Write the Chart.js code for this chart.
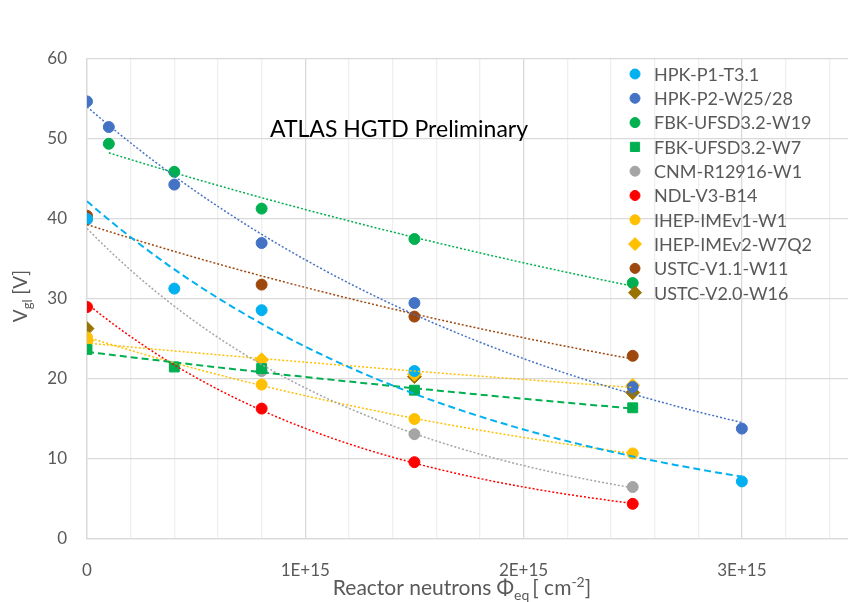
<!DOCTYPE html>
<html>
<head>
<meta charset="utf-8">
<script src="https://cdn.jsdelivr.net/npm/chart.js@4/dist/chart.umd.min.js"></script>
<style>
  html, body { margin: 0; padding: 0; background: #fff; overflow: hidden; }
  #wrap { width: 860px; height: 602px; position: relative; }
</style>
</head>
<body>
<div id="wrap"><canvas id="chart"></canvas></div>
<script>
// fluence values (x) and gate voltage (y) per sensor
const hpkP1X = [0, 4e14, 8e14, 1.5e15, 3e15]
const hpkP1Y = [40.0, 31.3, 28.6, 21.0, 7.2]
const hpkP2X = [0, 1e14, 4e14, 8e14, 1.5e15, 2.5e15, 3e15]
const hpkP2Y = [54.7, 51.5, 44.3, 37.0, 29.5, 19.0, 13.8]
const fbkW19X = [1e14, 4e14, 8e14, 1.5e15, 2.5e15]
const fbkW19Y = [49.4, 45.9, 41.3, 37.5, 32.0]
const fbkW7X = [0, 4e14, 8e14, 1.5e15, 2.5e15]
const fbkW7Y = [23.7, 21.5, 21.3, 18.6, 16.4]
const cnmX = [0, 8e14, 1.5e15, 2.5e15]
const cnmY = [39.9, 21.0, 13.1, 6.5]
const ndlX = [0, 8e14, 1.5e15, 2.5e15]
const ndlY = [29.0, 16.3, 9.6, 4.4]
const imev1X = [0, 8e14, 1.5e15, 2.5e15]
const imev1Y = [25.2, 19.3, 15.0, 10.7]
const imev2X = [0, 8e14, 1.5e15, 2.5e15]
const imev2Y = [24.8, 22.4, 20.6, 19.2]
const ustc11X = [0, 8e14, 1.5e15, 2.5e15]
const ustc11Y = [40.4, 31.8, 27.8, 22.9]
const ustc20X = [0, 1.5e15, 2.5e15]
const ustc20Y = [26.3, 20.3, 18.3]

const yTicks = [0, 10, 20, 30, 40, 50, 60]
// x gridlines every 2E+14, labelled every 1E+15
const xGrid = [0, 2e14, 4e14, 6e14, 8e14, 1e15, 1.2e15, 1.4e15, 1.6e15, 1.8e15, 2e15,
  2.2e15, 2.4e15, 2.6e15, 2.8e15, 3e15, 3.2e15, 3.4e15]
const xTickLabels = ['0', '1E+15', '2E+15', '3E+15']

// name, x, y, colour, marker, trendline dash (null = no trendline), trend width
const series = [
  ['HPK-P1-T3.1', hpkP1X, hpkP1Y, '#00B0F0', 'circle', [7, 4], 2],
  ['HPK-P2-W25/28', hpkP2X, hpkP2Y, '#4472C4', 'circle', [2, 2], 1.5],
  ['FBK-UFSD3.2-W19', fbkW19X, fbkW19Y, '#00B050', 'circle', [2, 2], 1.5],
  ['FBK-UFSD3.2-W7', fbkW7X, fbkW7Y, '#00B050', 'rect', [7, 4], 2],
  ['CNM-R12916-W1', cnmX, cnmY, '#A5A5A5', 'circle', [2, 2], 1.5],
  ['NDL-V3-B14', ndlX, ndlY, '#FF0000', 'circle', [2, 2], 1.5],
  ['IHEP-IMEv1-W1', imev1X, imev1Y, '#FFC000', 'circle', [2, 2], 1.5],
  ['IHEP-IMEv2-W7Q2', imev2X, imev2Y, '#FFC000', 'rectRot', [2, 2], 1.5],
  ['USTC-V1.1-W11', ustc11X, ustc11Y, '#9E480E', 'circle', [2, 2], 1.5],
  ['USTC-V2.0-W16', ustc20X, ustc20Y, '#997300', 'rectRot', null, 0],
]

// exponential least-squares fit like the spreadsheet trendline (y = a*exp(b*x))
function expFit(xs, ys) {
  const n = xs.length
  let sx = 0, sy = 0, sxx = 0, sxy = 0
  xs.forEach((x, i) => {
    const u = x / 1e15, v = Math.log(ys[i])
    sx += u; sy += v; sxx += u * u; sxy += u * v
  })
  const b = (n * sxy - sx * sy) / (n * sxx - sx * sx)
  const a = Math.exp((sy - b * sx) / n)
  return x => a * Math.exp(b * x / 1e15)
}

function trendPoints(xs, ys) {
  const f = expFit(xs, ys)
  const lo = Math.min(...xs), hi = Math.max(...xs)
  const pts = []
  for (let i = 0; i <= 40; i++) {
    const x = lo + (hi - lo) * i / 40
    pts.push({ x: x, y: f(x) })
  }
  return pts
}

const datasets = []
series.forEach(s => {
  if (!s[5]) return
  datasets.push({
    label: s[0] + ' trend',
    data: trendPoints(s[1], s[2]),
    showLine: true,
    borderColor: s[3],
    borderWidth: s[6],
    borderDash: s[5],
    pointRadius: 0,
    fill: false,
    tension: 0,
  })
})
series.forEach(s => {
  datasets.push({
    label: s[0],
    data: s[1].map((x, i) => ({ x: x, y: s[2][i] })),
    showLine: false,
    pointStyle: s[4],
    pointRadius: s[4] === 'circle' ? 5.5 : 7,
    backgroundColor: s[3],
    borderColor: s[3],
    borderWidth: 1,
  })
})

const textGrey = '#595959'
const font = 'Lato, "Noto Sans", sans-serif'

const decorations = {
  id: 'decorations',
  afterDraw(chart) {
    const ctx = chart.ctx
    ctx.save()

    // header text inside the plot
    ctx.fillStyle = '#000'
    ctx.font = '23px ' + font
    ctx.textBaseline = 'alphabetic'
    ctx.textAlign = 'left'
    ctx.fillText('ATLAS HGTD Preliminary', 270, 137)

    // legend
    ctx.font = '18px ' + font
    ctx.textBaseline = 'middle'
    series.forEach((s, i) => {
      const y = 74 + i * 24.3
      ctx.fillStyle = s[3]
      ctx.strokeStyle = s[3]
      ctx.lineWidth = 1
      Chart.helpers.drawPoint(ctx, { pointStyle: s[4], radius: s[4] === 'circle' ? 5 : 6.5, rotation: 0, borderWidth: 1 }, 635, y)
      ctx.fillStyle = textGrey
      ctx.fillText(s[0], 654, y + 1)
    })

    // y axis title: V_gl [V]
    ctx.fillStyle = textGrey
    ctx.textBaseline = 'alphabetic'
    ctx.translate(27, 296)
    ctx.rotate(-Math.PI / 2)
    let big = '19px ' + font, small = '13px ' + font
    ctx.font = big
    const wV = ctx.measureText('V').width
    const wU = ctx.measureText(' [V]').width
    ctx.font = small
    const wS = ctx.measureText('gl').width
    let u = -(wV + wS + wU) / 2
    ctx.font = big; ctx.fillText('V', u, 0); u += wV
    ctx.font = small; ctx.fillText('gl', u, 5); u += wS
    ctx.font = big; ctx.fillText(' [V]', u, 0)
    ctx.setTransform(1, 0, 0, 1, 0, 0)

    // x axis title: Reactor neutrons Φ_eq [ cm^-2]
    big = '21px ' + font
    small = '14px ' + font
    const parts = [
      ['Reactor neutrons \u03A6', big, 0],
      ['eq', small, 5],
      ['[ cm', big, 0],
      ['-2', small, -8],
      [']', big, 0],
    ]
    let total = 0
    parts.forEach(p => { ctx.font = p[1]; p.push(ctx.measureText(p[0]).width + (p[0] === 'eq' ? 3 : 0)); total += p[3] })
    let x = 462 - total / 2
    parts.forEach(p => {
      ctx.font = p[1]
      ctx.fillText(p[0], x, 595 + p[2])
      x += p[3]
    })
    ctx.restore()
  }
}

new Chart(document.getElementById('chart'), {
  type: 'scatter',
  data: { datasets: datasets },
  options: {
    responsive: true,
    maintainAspectRatio: false,
    animation: false,
    layout: { padding: { top: 59, right: 9, left: 0, bottom: 0 } },
    plugins: { legend: { display: false }, tooltip: { enabled: false } },
    scales: {
      x: {
        type: 'linear',
        min: 0,
        max: 3.5e15,
        afterFit: s => { s.height = 63 },
        afterBuildTicks: s => { s.ticks = xGrid.map(v => ({ value: v })) },
        ticks: {
          color: textGrey,
          font: { family: font, size: 17 },
          padding: 21,
          maxRotation: 0,
          autoSkip: false,
          callback: (v, i) => i % 5 === 0 ? xTickLabels[i / 5] : '',
        },
        grid: {
          color: c => c.index % 5 === 0 ? '#D9D9D9' : '#EFEFEF',
          lineWidth: 1.3,
          drawTicks: false,
        },
        border: { display: true, color: '#D9D9D9', width: 1.3 },
      },
      y: {
        type: 'linear',
        min: yTicks[0],
        max: yTicks[yTicks.length - 1],
        afterFit: s => { s.width = 87 },
        afterBuildTicks: s => { s.ticks = yTicks.map(v => ({ value: v })) },
        ticks: {
          color: textGrey,
          font: { family: font, size: 17 },
          padding: 20,
        },
        grid: { color: '#D9D9D9', lineWidth: 1.3, drawTicks: false },
        border: { display: true, color: '#D9D9D9', width: 1.3 },
      },
    },
  },
  plugins: [decorations],
})
</script>
</body>
</html>
